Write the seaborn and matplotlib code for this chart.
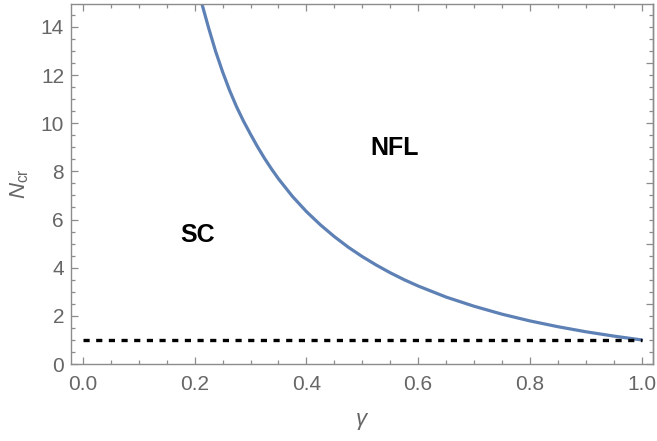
# Phase diagram: critical N versus gamma
import numpy as np
import pandas as pd
import matplotlib
matplotlib.use("Agg")
import matplotlib.pyplot as plt
import seaborn as sns
from matplotlib.ticker import MultipleLocator, NullFormatter

# ==========================================
# Data
# ==========================================

gamma = [0.210, 0.225, 0.2375, 0.250, 0.2625, 0.275, 0.2875, 0.300,
         0.3125, 0.325, 0.3375, 0.350, 0.375, 0.400, 0.425, 0.450,
         0.475, 0.500, 0.525, 0.550, 0.575, 0.600, 0.650, 0.700,
         0.750, 0.800, 0.850, 0.900, 0.950, 1.000]
n_cr = [15.2, 13.95, 12.98, 12.13, 11.36, 10.68, 10.08, 9.54,
        9.02, 8.54, 8.10, 7.69, 6.96, 6.33, 5.78, 5.29,
        4.85, 4.46, 4.11, 3.79, 3.50, 3.24, 2.78, 2.40,
        2.07, 1.79, 1.55, 1.34, 1.16, 1.00]

base_gamma = [0.0, 1.0]
base_n = [1.0, 1.0]

region_labels = ["NFL", "SC"]
region_gamma = [0.558, 0.205]
region_n = [8.97, 5.35]

x_ticks = [0.0, 0.2, 0.4, 0.6, 0.8, 1.0]
y_ticks = [0, 2, 4, 6, 8, 10, 12, 14]

curve = pd.DataFrame({"gamma": gamma, "N": n_cr})
base = pd.DataFrame({"gamma": base_gamma, "N": base_n})

# ==========================================
# Style
# ==========================================

sns.set_style("ticks")
plt.rcParams["font.family"] = ["Liberation Sans", "DejaVu Sans"]
plt.rcParams["mathtext.fontset"] = "custom"
plt.rcParams["mathtext.rm"] = "Liberation Sans"
plt.rcParams["mathtext.it"] = "Liberation Sans:italic"

frame_col = "#8c8c8c"
label_col = "#666666"

fig = plt.figure(figsize=(6.57, 4.41), dpi=100)
ax = fig.add_axes([0.108, 0.1746, 0.886, 0.8164])

# ==========================================
# Curves
# ==========================================

sns.lineplot(data=curve, x="gamma", y="N", color="#5e81b5",
             linewidth=2.3, sort=False, ax=ax)
sns.lineplot(data=base, x="gamma", y="N", color="black",
             linewidth=2.4, dashes=False, ax=ax)
ax.lines[-1].set_dashes((1.85, 1.95))
ax.lines[-1].set_dash_capstyle("butt")

for lab, gx, gy in zip(region_labels, region_gamma, region_n):
    ax.text(gx, gy, lab, fontsize=18, fontweight="bold",
            ha="center", va="center", color="black")

# ==========================================
# Axes, frame and ticks
# ==========================================

ax.set_xlim(-0.0215, 1.0206)
ax.set_ylim(0, 14.95)

ax.set_xticks(x_ticks)
ax.set_xticklabels([f"{t:.1f}" for t in x_ticks])
ax.set_yticks(y_ticks)
ax.xaxis.set_minor_locator(MultipleLocator(0.05))
ax.yaxis.set_minor_locator(MultipleLocator(0.5))

ax.tick_params(which="both", direction="in", color=frame_col,
               top=True, right=False, labelsize=15, labelcolor=label_col)
ax.tick_params(which="major", length=5, width=0.9)
ax.tick_params(which="minor", length=2.7, width=0.9)
ax.tick_params(axis="x", which="major", pad=8)
ax.tick_params(axis="y", which="major", pad=5)

# right frame has its own tick spacing
right = ax.secondary_yaxis("right")
right.yaxis.set_major_locator(MultipleLocator(2.5))
right.yaxis.set_minor_locator(MultipleLocator(0.5))
right.yaxis.set_major_formatter(NullFormatter())
right.tick_params(which="both", direction="in", color=frame_col)
right.tick_params(which="major", length=5, width=0.9)
right.tick_params(which="minor", length=2.7, width=0.9)
right.spines["right"].set_color(frame_col)
right.spines["right"].set_linewidth(1.0)

for side in ["left", "right", "top", "bottom"]:
    ax.spines[side].set_visible(True)
    ax.spines[side].set_color(frame_col)
    ax.spines[side].set_linewidth(1.0)

ax.set_xlabel(r"$\gamma$", fontsize=16, color=label_col, labelpad=12)
ax.set_ylabel(r"$N_{\mathrm{cr}}$", fontsize=16, color=label_col, labelpad=7)

plt.savefig("out.png", dpi=100)
